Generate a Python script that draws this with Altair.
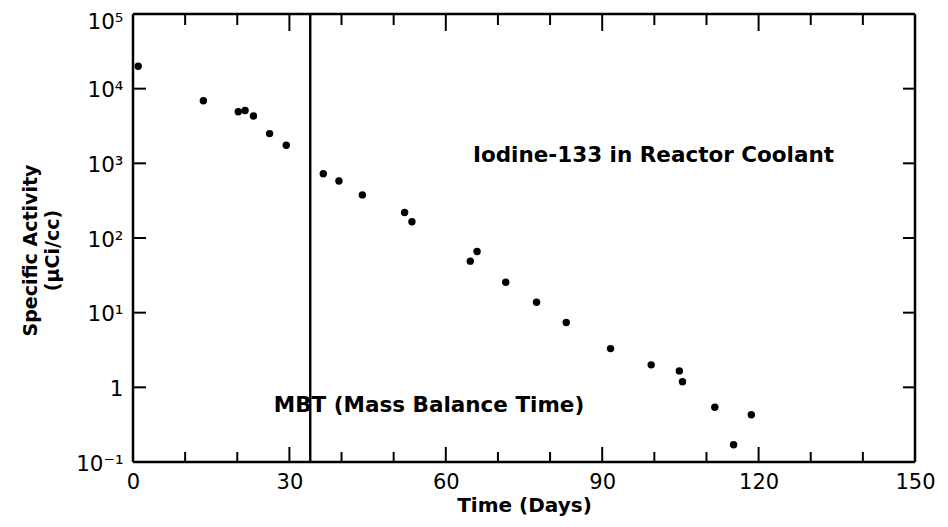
import altair as alt
import pandas as pd

# ---- data ----
days = [1.0, 13.5, 20.2, 21.5, 23.1, 26.2, 29.4, 36.5, 39.5, 44.0, 52.1, 53.5,
        64.7, 66.0, 71.5, 77.4, 83.1, 91.6, 99.4, 104.8, 105.4, 111.6, 118.6, 115.2]
activity = [2.0e4, 6.9e3, 4.9e3, 5.1e3, 4.3e3, 2.5e3, 1.75e3, 726, 580, 378, 219, 165,
            49, 66, 25.6, 13.8, 7.4, 3.3, 2.0, 1.66, 1.19, 0.54, 0.43, 0.17]

mbt_day = [34.0]

x_major = [0, 30, 60, 90, 120, 150]
x_minor = [10, 20, 40, 50, 70, 80, 100, 110, 130, 140]
y_ticks = [0.1, 1, 10, 100, 1000, 10000, 100000]
y_tick_labels = ["10\u207b\u00b9", "1", "10\u00b9", "10\u00b2", "10\u00b3", "10\u2074", "10\u2075"]

ann_text = ["Iodine-133 in Reactor Coolant", "MBT (Mass Balance Time)"]
ann_day = [65.2, 27.0]
ann_act = [1250, 0.56]

W, H = 782, 448
FONT = "DejaVu Sans"

xs = alt.Scale(domain=[0, 150], nice=False, zero=False)
ys = alt.Scale(type="log", domain=[0.1, 100000], nice=False)

label_expr = "[" + ",".join("'" + s + "'" for s in y_tick_labels) + "][round(log(datum.value)/LN10)+1]"

xaxis = alt.Axis(values=x_major, title="Time (Days)", tickSize=0, domain=False,
                 grid=False, labelFlush=False, labelFontSize=21, labelFont=FONT,
                 labelColor="black", labelPadding=9, titleFont=FONT,
                 titleFontSize=20, titleFontWeight="bold", titleColor="black",
                 titlePadding=3)
yaxis = alt.Axis(values=y_ticks, labelExpr=label_expr, title=["Specific Activity", "(\u03bcCi/cc)"],
                 tickSize=0, domain=False, grid=False, labelFontSize=21.5, labelFont=FONT,
                 labelColor="black", labelPadding=10, labelFlush=False,
                 labelOffset={"condition": {"test": "datum.value > 50000", "value": 8}, "value": 2},
                 titleFont=FONT, titleFontSize=19, titleFontWeight="bold",
                 titleColor="black", titlePadding=13, titleLineHeight=22, titleY=236)

X = alt.X("day:Q", scale=xs, axis=xaxis)
Y = alt.Y("activity:Q", scale=ys, axis=yaxis)

pts = pd.DataFrame({"day": days, "activity": activity})
points = alt.Chart(pts).mark_circle(size=55, opacity=1, color="black").encode(x=X, y=Y)

mbt = alt.Chart(pd.DataFrame({"day": mbt_day})).mark_rule(color="black", strokeWidth=2.4).encode(
    x=X, y=alt.value(0), y2=alt.value(H),
)

xmaj = pd.DataFrame({"day": x_major})
xmin = pd.DataFrame({"day": x_minor})
ydf = pd.DataFrame({"activity": y_ticks})

def xtick(df, y0, y1):
    return alt.Chart(df).mark_rule(color="black", strokeWidth=2).encode(
        x=X, y=alt.value(y0), y2=alt.value(y1))

def ytick(df, x0, x1):
    return alt.Chart(df).mark_rule(color="black", strokeWidth=2).encode(
        y=Y, x=alt.value(x0), x2=alt.value(x1))

ticks = [
    xtick(xmaj, H, H - 15), xtick(xmin, H, H - 10),
    xtick(xmaj, 0, 17), xtick(xmin, 0, 11),
    ytick(ydf, 0, 13), ytick(ydf, W, W - 12),
]

def edge(x0, x1, y0, y1):
    return alt.Chart(pd.DataFrame({"k": [0]})).mark_rule(color="black", strokeWidth=2.5).encode(
        x=alt.value(x0), x2=alt.value(x1), y=alt.value(y0), y2=alt.value(y1))

frame = [edge(0, W, 0, 0), edge(0, W, H, H), edge(0, 0, 0, H), edge(W, W, 0, H)]

ann = alt.Chart(pd.DataFrame({"day": ann_day, "activity": ann_act, "t": ann_text})).mark_text(
    align="left", baseline="middle", font=FONT, fontSize=21.5, fontWeight="bold", color="black"
).encode(x=X, y=Y, text="t:N")

chart = alt.layer(points, mbt, *ticks, *frame, ann).properties(
    width=W, height=H,
    autosize=alt.AutoSizeParams(type="none"),
    padding={"left": 125, "top": 6, "right": 25, "bottom": 55},
).configure(background="white", view=alt.ViewConfig(stroke="transparent"))

chart.save("out.html", embed_options={"renderer": "svg", "actions": False})
